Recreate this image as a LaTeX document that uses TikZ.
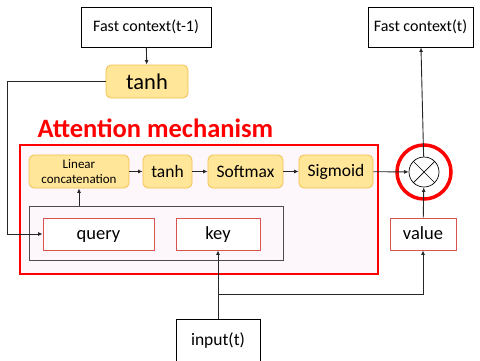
\documentclass[tikz,border=0pt]{standalone}
\usepackage{fontspec}
\setmainfont{Carlito}
\usetikzlibrary{arrows.meta}
\definecolor{goldfill}{HTML}{FFE699}
\definecolor{goldline}{HTML}{F2C14E}
\definecolor{pinkfill}{HTML}{FDF6FB}
\definecolor{keyred}{HTML}{D9534F}
\definecolor{strongred}{HTML}{FF0000}
\begin{document}
\begin{tikzpicture}[x=1pt,y=-1pt,
  plainbox/.style={draw=black,fill=white,line width=0.8pt,inner sep=0pt},
  goldbox/.style={draw=goldline,fill=goldfill,rounded corners=5pt,line width=0.8pt,inner sep=0pt},
  keybox/.style={draw=keyred,fill=white,line width=0.8pt,inner sep=0pt,text height=12pt,text depth=1pt},
  conn/.style={draw=black!85,line width=0.9pt},
  arr/.style={conn,-{Latex[length=4.5pt,width=4pt]}}]
\useasboundingbox (0,0) rectangle (480,360);

% top boxes
\node[plainbox,minimum width=130pt,minimum height=40pt,font=\fontsize{16}{18}\selectfont] (fprev) at (146,27) {Fast context(t-1)};
\node[plainbox,minimum width=105pt,minimum height=40pt,font=\fontsize{16}{18}\selectfont] (fnext) at (420.5,27) {Fast context(t)};
\node[goldbox,minimum width=82pt,minimum height=33pt,font=\fontsize{22.5}{24}\selectfont] (tanhA) at (147,81.5) {tanh};

% attention block
\node[text=strongred,font=\fontsize{26.5}{29}\selectfont\bfseries,anchor=base west] (title) at (34,137) {Attention mechanism};
\node[draw=strongred,fill=pinkfill,line width=2.5pt,minimum width=358pt,minimum height=129pt,inner sep=0pt] (att) at (199,209.5) {};
\node[draw=black!70,fill=pinkfill,line width=0.8pt,minimum width=254pt,minimum height=54pt,inner sep=0pt] (qk) at (156,233) {};

\node[goldbox,minimum width=100pt,minimum height=33pt,align=center,font=\fontsize{13}{15}\selectfont] (lin) at (79,171.5) {Linear\\concatenation};
\node[goldbox,minimum width=49pt,minimum height=33pt,font=\fontsize{17.5}{19}\selectfont] (tanhB) at (167.5,171.5) {tanh};
\node[goldbox,minimum width=75pt,minimum height=33pt,font=\fontsize{17.5}{19}\selectfont] (soft) at (245.5,171.5) {Softmax};
\node[goldbox,minimum width=74pt,minimum height=33pt,font=\fontsize{17.5}{19}\selectfont] (sig) at (336,171.5) {Sigmoid};

\node[keybox,minimum width=111pt,minimum height=32pt,font=\fontsize{18.5}{20}\selectfont] (query) at (98.5,234) {query};
\node[keybox,minimum width=84pt,minimum height=32pt,font=\fontsize{18.5}{20}\selectfont] (key) at (218,234) {key};
\node[keybox,minimum width=66pt,minimum height=32pt,font=\fontsize{18.5}{20}\selectfont] (value) at (423,234) {value};

% multiplication
\node[draw=strongred,line width=3.5pt,circle,minimum size=54pt,inner sep=0pt] (ring) at (424,172) {};
\node[draw=black,fill=white,circle,line width=0.7pt,minimum size=30pt,inner sep=0pt] (mul) at (424,172) {};
\draw[line width=0.7pt] (mul.north west) -- (mul.south east) (mul.north east) -- (mul.south west);

% input
\node[plainbox,minimum width=84pt,minimum height=44pt,font=\fontsize{17.5}{19}\selectfont] (inp) at (218,341) {input(t)};
\coordinate (split) at (218,294);

% connectors
\draw[arr] (fprev) -- (tanhA);
\draw[arr] (tanhA.west) -- (7,81.5) |- (query.west);
\draw[arr] (lin) -- (tanhB);
\draw[arr] (tanhB) -- (soft);
\draw[arr] (soft) -- (sig);
\draw[arr] (sig) -- (mul);
\draw[arr] (qk.north -| lin) -- (lin);
\draw[arr] (mul) -- (fnext);
\draw[arr] (value) -- (mul);
\draw[arr] (inp) -- (key);
\draw[arr] (split) -| (value);
\end{tikzpicture}
\end{document}
